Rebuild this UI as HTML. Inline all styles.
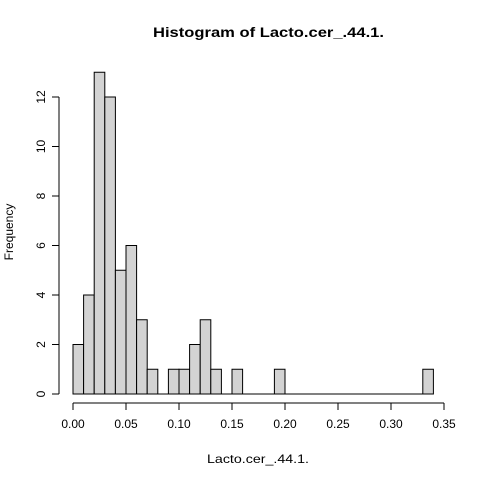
<!DOCTYPE html>
<html><head><meta charset="utf-8"><style>
html,body{margin:0;padding:0;background:#fff;}
svg{display:block;font-family:"Liberation Sans",Arial,sans-serif;}
</style></head><body>
<svg id="chart" width="480" height="480" viewBox="0 0 480 480">
<text x="153" y="37" font-size="14" font-weight="bold" textLength="231" lengthAdjust="spacingAndGlyphs">Histogram of Lacto.cer_.44.1.</text>
<text x="207" y="463" font-size="12" textLength="102" lengthAdjust="spacingAndGlyphs">Lacto.cer_.44.1.</text>
<text transform="translate(13,232) rotate(-90)" text-anchor="middle" font-size="12">Frequency</text>
<g id="bars"></g><g id="xaxis"></g><g id="yaxis"></g>
</svg>
<script>
const binStarts = [0,0.01,0.02,0.03,0.04,0.05,0.06,0.07,0.08,0.09,0.10,0.11,0.12,0.13,0.14,0.15,0.16,0.17,0.18,0.19,0.20,0.21,0.22,0.23,0.24,0.25,0.26,0.27,0.28,0.29,0.30,0.31,0.32,0.33];
const counts = [2,4,13,12,5,6,3,1,0,1,1,2,3,1,0,1,0,0,0,1,0,0,0,0,0,0,0,0,0,0,0,0,0,1];
const binWidth = 0.01;
const xTicks = [0,0.05,0.10,0.15,0.20,0.25,0.30,0.35];
const xTickLabels = ["0.00","0.05","0.10","0.15","0.20","0.25","0.30","0.35"];
const yTicks = [0,2,4,6,8,10,12];
const NS="http://www.w3.org/2000/svg";
const xs = v => 73 + v*(444-73)/0.35;
const ys = v => 394 - v*(394-97)/12;
function mk(tag, attrs, parent){const e=document.createElementNS(NS,tag);for(const k in attrs)e.setAttribute(k,attrs[k]);parent.appendChild(e);return e;}
const bars=document.getElementById('bars');
const base=mk('line',{x1:xs(binStarts[0]),x2:xs(binStarts[binStarts.length-1]+binWidth),y1:ys(0),y2:ys(0),stroke:'#000'},bars);


binStarts.forEach((b,i)=>{
  const x0=xs(b), x1=xs(b+binWidth), y=ys(counts[i]);
  const r=mk('rect',{x:x0,y:y,width:x1-x0,height:ys(0)-y,fill:'#d3d3d3',stroke:'#000','stroke-width':1},bars);
  
  
});
const xa=document.getElementById('xaxis');


mk('line',{x1:xs(xTicks[0]),x2:xs(xTicks[xTicks.length-1]),y1:403,y2:403,stroke:'#000'},xa);
xTicks.forEach((t,i)=>{
  mk('line',{x1:xs(t),x2:xs(t),y1:403,y2:410,stroke:'#000'},xa);
  const tx=mk('text',{x:xs(t),y:428,'text-anchor':'middle','font-size':12},xa);
  tx.textContent=xTickLabels[i];
  
  
});
const ya=document.getElementById('yaxis');


mk('line',{x1:59,x2:59,y1:ys(yTicks[0]),y2:ys(yTicks[yTicks.length-1]),stroke:'#000'},ya);
yTicks.forEach(t=>{
  mk('line',{x1:52,x2:59,y1:ys(t),y2:ys(t),stroke:'#000'},ya);
  const tx=mk('text',{transform:`translate(45,${ys(t)}) rotate(-90)`,'text-anchor':'middle','font-size':12},ya);
  tx.textContent=t;
  
  
});
</script>
</body></html>
